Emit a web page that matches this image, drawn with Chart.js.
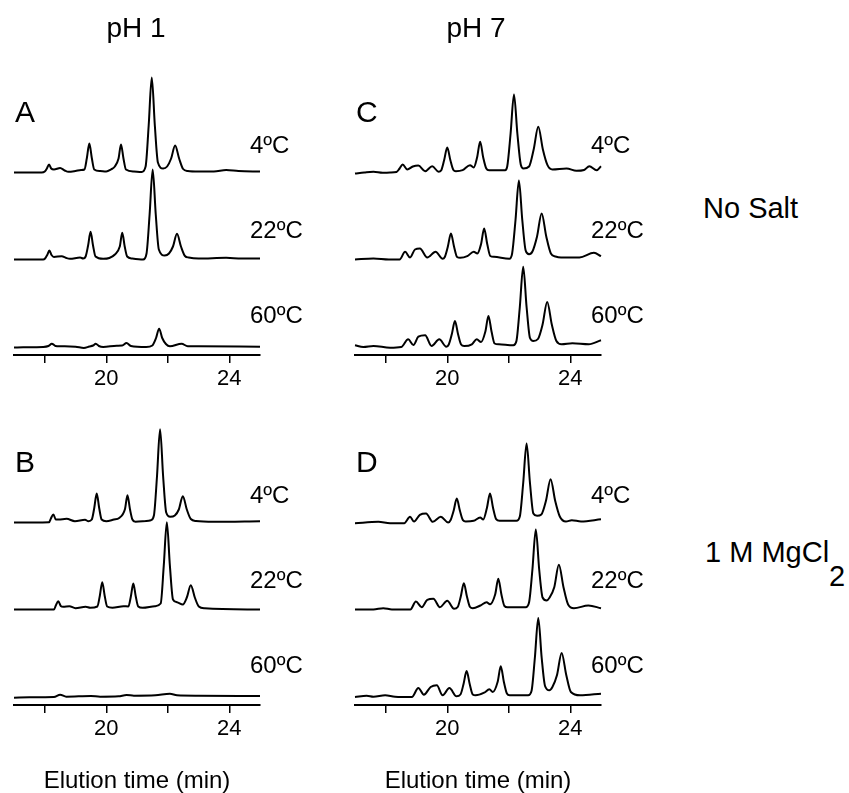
<!DOCTYPE html>
<html>
<head>
<meta charset="utf-8">
<script src="https://cdn.jsdelivr.net/npm/chart.js@4.4.1/dist/chart.umd.min.js"></script>
<style>
  body { margin: 0; background: #fff; }
  #fig { position: relative; width: 849px; height: 793px; overflow: hidden;
         font-family: 'Liberation Sans', Arial, sans-serif; color: #000; background: #fff; }
  #fig canvas { position: absolute; }
  .lbl { position: absolute; white-space: nowrap; line-height: 1; }
</style>
</head>
<body>
<div id="fig"></div>
<script>
// elution time (min) / detector signal
// panel A: pH 1, no salt
const tA4 = [17.0, 17.9, 18.0, 18.07, 18.14, 18.21, 18.3, 18.5, 18.65, 18.77, 19.0, 19.18, 19.29, 19.37, 19.45, 19.53, 19.61, 19.8, 20.0, 20.15, 20.28, 20.40, 20.48, 20.56, 20.64, 20.9, 21.15, 21.28, 21.38, 21.48, 21.58, 21.68, 21.85, 21.98, 22.11, 22.24, 22.37, 22.5, 22.65, 23.0, 23.5, 23.9, 24.3, 25.0];
const sA4 = [0, 0, 1, 4, 8, 4, 3, 4.5, 2, 0.7, 1.5, 2.5, 3, 14.5, 29, 14.5, 3, 1.5, 1, 3, 6, 14, 28, 14, 3, 1, 0.5, 6, 47, 95, 47, 10, 4, 6, 14, 27, 14, 3.5, 1.5, 1, 1, 2.5, 1.5, 1];
const tA22 = [17.0, 17.95, 18.01, 18.08, 18.15, 18.22, 18.3, 18.55, 18.7, 18.82, 19.15, 19.25, 19.33, 19.41, 19.49, 19.57, 19.65, 19.9, 20.1, 20.28, 20.44, 20.52, 20.6, 20.68, 20.84, 21.2, 21.31, 21.41, 21.51, 21.61, 21.71, 21.9, 22.04, 22.17, 22.3, 22.43, 22.56, 22.68, 23.0, 23.9, 24.4, 25.0];
const sA22 = [0, 0, 1, 4.5, 9, 4.5, 2.5, 3.3, 1.5, 0.7, 2, 1, 3, 14, 27.7, 14, 3, 0.7, 1.5, 5, 13, 26.7, 13, 3, 1, 0, 6, 45, 90, 45, 10, 4, 6, 13, 25.7, 13, 3.5, 2, 1, 1.7, 1, 1];
const tA60 = [17.0, 17.3, 17.95, 18.12, 18.23, 18.35, 18.5, 19.0, 19.27, 19.45, 19.57, 19.66, 19.76, 19.9, 20.34, 20.52, 20.66, 20.8, 21.3, 21.5, 21.62, 21.72, 21.82, 21.94, 22.07, 22.45, 22.65, 23.0, 25.0];
const sA60 = [-0.5, -0.3, 0, 1, 3.3, 1, 0.7, 0.3, -1, 0.5, 1.5, 3.3, 1, 0, 1.3, 1.5, 4, 1, 0, 1.5, 9, 18.3, 9, 3, 0.7, 3.3, 0.7, 0.7, 0.3];

// panel B: pH 1, 1 M MgCl2
const tB4 = [17.0, 18.14, 18.2, 18.28, 18.36, 18.45, 18.71, 18.98, 19.31, 19.42, 19.53, 19.61, 19.69, 19.77, 19.85, 20.0, 20.25, 20.42, 20.61, 20.69, 20.77, 20.85, 20.95, 21.3, 21.45, 21.55, 21.65, 21.75, 21.85, 21.95, 22.08, 22.23, 22.36, 22.49, 22.62, 22.75, 22.92, 23.5, 25.0];
const sB4 = [0, 0.3, 4, 8, 3, 3, 3.7, 1.3, 2.7, 1.3, 3, 14.5, 29, 14.5, 3, 1.3, 3, 4.5, 13.5, 27.3, 13.5, 3, 0.7, 1.5, 2.3, 7, 46, 93.3, 46, 10, 5.7, 7, 13, 26.3, 13, 3.5, 1.5, 0.7, 1.3];
const tB22 = [17.0, 18.3, 18.36, 18.44, 18.52, 18.6, 18.8, 19.0, 19.33, 19.48, 19.71, 19.79, 19.87, 19.95, 20.03, 20.2, 20.56, 20.72, 20.8, 20.88, 20.96, 21.04, 21.18, 21.58, 21.77, 21.87, 21.97, 22.07, 22.17, 22.3, 22.49, 22.62, 22.75, 22.88, 23.01, 23.2, 25.0];
const sB22 = [0, 0, 4, 8.3, 3.5, 2.7, 3.3, 1.3, 2.7, 1.7, 3, 13.5, 27.3, 13.5, 3, 1.7, 3.3, 3, 13, 26, 13, 3, 1.7, 3.3, 6, 43.6, 87.3, 43.6, 10, 7.3, 5, 12, 24.3, 12, 3, 1.2, 0];
const tB60 = [17.0, 17.5, 18.3, 18.5, 18.7, 19.5, 19.8, 20.4, 20.66, 20.9, 21.6, 22.07, 22.3, 23.0, 25.0];
const sB60 = [-0.7, -0.3, 0, 2.3, 0.3, 1, 0.3, 0.7, 2, 1.3, 1.7, 3.3, 1.7, 1.3, 1];

// panel C: pH 7, no salt
const tC4 = [17.0, 17.3, 17.6, 17.9, 18.14, 18.35, 18.45, 18.55, 18.7, 18.88, 19.06, 19.28, 19.51, 19.72, 19.8, 19.9, 20.0, 20.1, 20.2, 20.28, 20.5, 20.74, 20.86, 20.97, 21.07, 21.17, 21.27, 21.36, 21.88, 21.95, 22.06, 22.17, 22.28, 22.39, 22.48, 22.66, 22.81, 22.96, 23.11, 23.26, 23.42, 23.88, 24.2, 24.45, 24.62, 24.86, 25.0];
const sC4 = [-1, 0, 0.7, -0.3, 0, 0.5, 4, 8, 3, 6, 7, 1.3, 6.3, 0.7, 2, 12.5, 25, 12.5, 2.5, 1.3, 2.3, 7.3, 5, 15, 30.7, 15, 4, 2.3, 2.3, 6, 39, 78, 39, 8, 4, 6, 23, 45.7, 23, 7.3, 3, 4, 1.7, 2.5, 6.3, 2.3, 6.3];
const tC22 = [17.0, 17.6, 18.1, 18.45, 18.63, 18.79, 18.95, 19.11, 19.35, 19.62, 19.85, 19.92, 20.02, 20.12, 20.22, 20.32, 20.42, 20.65, 20.86, 20.98, 21.1, 21.2, 21.3, 21.4, 21.52, 22.02, 22.11, 22.22, 22.33, 22.44, 22.55, 22.66, 22.77, 22.92, 23.07, 23.22, 23.37, 23.52, 23.7, 24.3, 24.77, 25.0];
const sC22 = [0, 1, 0, 0, 7.7, 2, 10, 11, 2, 7.7, 0.7, 2.5, 13, 26, 13, 2.5, 1.7, 3.3, 7.7, 6, 15.5, 31, 15.5, 3.5, 2.7, 0.7, 6, 39.5, 79, 39.5, 9, 5.3, 8, 23, 46, 23, 6, 3, 2, 2, 6.7, 3.3];
const tC60 = [17.0, 17.27, 17.6, 18.14, 18.5, 18.73, 18.9, 19.06, 19.28, 19.49, 19.74, 19.97, 20.05, 20.15, 20.25, 20.35, 20.45, 20.55, 20.8, 20.96, 21.1, 21.24, 21.34, 21.44, 21.54, 21.68, 22.15, 22.25, 22.36, 22.47, 22.58, 22.69, 22.8, 22.95, 23.1, 23.25, 23.4, 23.55, 23.72, 24.07, 24.6, 25.0];
const sC60 = [1.7, 0, 1, -0.7, 0, 7.7, 2, 10.3, 11.7, 1, 7.7, 0.3, 2.5, 13, 26, 13, 2.5, 1, 2.7, 7.7, 5, 15.5, 31, 15.5, 3.5, 2.7, 1.7, 6, 40, 80.3, 40, 9, 6, 8, 22.5, 45, 22.5, 6, 2.7, 3.7, 2.7, 6.7];

// panel D: pH 7, 1 M MgCl2
const tD4 = [17.0, 17.76, 18.14, 18.6, 18.79, 18.92, 19.11, 19.31, 19.53, 19.79, 20.03, 20.11, 20.21, 20.31, 20.41, 20.51, 20.6, 20.86, 21.07, 21.17, 21.29, 21.39, 21.49, 21.59, 21.7, 22.25, 22.36, 22.47, 22.58, 22.69, 22.8, 22.92, 23.06, 23.21, 23.36, 23.51, 23.66, 23.86, 24.05, 24.35, 25.0];
const sD4 = [-0.7, 0.7, -0.7, -0.7, 5.7, 1, 7.7, 9, 0.7, 5.7, 0, 2.5, 12, 24, 12, 2.3, 1, 1.7, 5, 3, 14.5, 29, 14.5, 3.3, 1.7, 1.7, 6, 39.5, 79, 39.5, 9, 6.7, 8, 21.7, 43.3, 21.7, 6, 1, 2.3, 1, 3.3];
const tD22 = [17.0, 17.6, 17.92, 18.2, 18.8, 18.98, 19.17, 19.35, 19.55, 19.76, 20.0, 20.22, 20.34, 20.44, 20.54, 20.64, 20.74, 20.83, 21.08, 21.28, 21.39, 21.56, 21.66, 21.76, 21.86, 21.96, 22.55, 22.66, 22.77, 22.88, 22.99, 23.1, 23.23, 23.33, 23.48, 23.63, 23.78, 23.93, 24.12, 24.59, 25.0];
const sD22 = [0, 0, 1.3, 0, 0, 8, 2.3, 9.7, 10.7, 2.3, 8.7, 0.7, 2.5, 13, 26.3, 13, 2.5, 1.3, 4, 7.3, 5.3, 15.3, 30.7, 15.3, 3.5, 2.3, 2.3, 7, 40, 80, 40, 12, 9, 12, 22.3, 44.7, 22.3, 5, 1.3, 4, 1.3];
const tD60 = [17.0, 17.38, 17.6, 17.98, 18.3, 18.85, 19.06, 19.24, 19.46, 19.66, 19.85, 20.07, 20.3, 20.43, 20.53, 20.63, 20.73, 20.83, 20.92, 21.2, 21.37, 21.48, 21.64, 21.74, 21.84, 21.94, 22.03, 22.63, 22.74, 22.85, 22.96, 23.07, 23.18, 23.32, 23.42, 23.57, 23.72, 23.87, 24.02, 24.32, 25.0];
const sD60 = [0, 1.3, 0.3, 1.7, 0.3, 0, 9, 2.3, 10, 11.7, 1.7, 9, 0.7, 2.5, 13, 26, 13, 2.5, 1.7, 4.3, 7.7, 5, 15.3, 30.7, 15.3, 3.5, 1.7, 1.7, 6, 39.5, 79, 39.5, 11, 6.7, 10, 22, 44, 22, 5, 1.7, 3.3];

const temps = ['4ºC', '22ºC', '60ºC'];
const xTicks = [18, 20, 22, 24];
const xLabelled = [20, 24];

// layout (px)
const FONT = "'Liberation Sans', Arial, sans-serif";
const traceLift = [182.5, 95.5, 8];   // trace baselines above the axis line
const AXIS_Y = 355;                   // axis line inside each canvas
const PLOT_TOP = 60;
const fig = document.getElementById('fig');

const panels = [
  { letter: 'A', left: 0,   top: 0,   bottom: false, traces: [[tA4, sA4], [tA22, sA22], [tA60, sA60]] },
  { letter: 'C', left: 341, top: 0,   bottom: false, traces: [[tC4, sC4], [tC22, sC22], [tC60, sC60]] },
  { letter: 'B', left: 0,   top: 350, bottom: true,  traces: [[tB4, sB4], [tB22, sB22], [tB60, sB60]] },
  { letter: 'D', left: 341, top: 350, bottom: true,  traces: [[tD4, sD4], [tD22, sD22], [tD60, sD60]] }
];

function addText(html, x, baseline, size, center) {
  const d = document.createElement('div');
  d.className = 'lbl';
  d.innerHTML = html;
  d.style.fontSize = size + 'px';
  d.style.top = (baseline - 0.8465 * size) + 'px';
  d.style.left = x + 'px';
  if (center) d.style.transform = 'translateX(-50%)';
  fig.appendChild(d);
}

panels.forEach(p => {
  const cv = document.createElement('canvas');
  cv.width = 345;
  cv.height = p.bottom ? 446 : 400;
  cv.style.left = p.left + 'px';
  cv.style.top = p.top + 'px';
  fig.appendChild(cv);

  new Chart(cv, {
    type: 'line',
    data: {
      datasets: p.traces.map((tr, k) => ({
        data: tr[0].map((t, i) => ({ x: t, y: tr[1][i] + traceLift[k] })),
        borderColor: '#000',
        borderWidth: 2,
        pointRadius: 0,
        fill: false,
        cubicInterpolationMode: 'monotone',
        clip: 4
      }))
    },
    options: {
      responsive: false,
      animation: false,
      layout: { padding: { left: 14, right: 85, top: PLOT_TOP, bottom: 0 } },
      plugins: { legend: { display: false }, tooltip: { enabled: false } },
      scales: {
        x: {
          type: 'linear',
          min: 17,
          max: 25,
          afterBuildTicks: s => { s.ticks = xTicks.map(v => ({ value: v })); },
          afterFit: s => { s.height = cv.height - AXIS_Y; },
          ticks: {
            color: '#000',
            font: { family: FONT, size: 22 },
            padding: 3,
            maxRotation: 0,
            autoSkip: false,
            callback: v => xLabelled.includes(v) ? String(v) : ''
          },
          grid: { drawOnChartArea: false, drawTicks: true, tickLength: 8, color: '#000', lineWidth: 1.5 },
          border: { display: true, color: '#000', width: 2 },
          title: {
            display: p.bottom,
            text: 'Elution time (min)',
            color: '#000',
            font: { family: FONT, size: 24 },
            padding: { top: 0, bottom: 0 }
          }
        },
        y: { display: false, min: 0, max: AXIS_Y - PLOT_TOP }
      }
    }
  });

  // panel letter and temperature labels
  addText(p.letter, p.left + 15, p.top + 122, 30);
  temps.forEach((tx, k) => addText(tx, p.left + 250, p.top + 153 + 85 * k, 24));
});

addText('pH 1', 136, 38, 28, true);
addText('pH 7', 476, 38, 28, true);
addText('No Salt', 703, 219, 29);
addText('1 M MgCl<span style="position:relative;top:24px">2</span>', 705, 563, 29);
</script>
</body>
</html>
